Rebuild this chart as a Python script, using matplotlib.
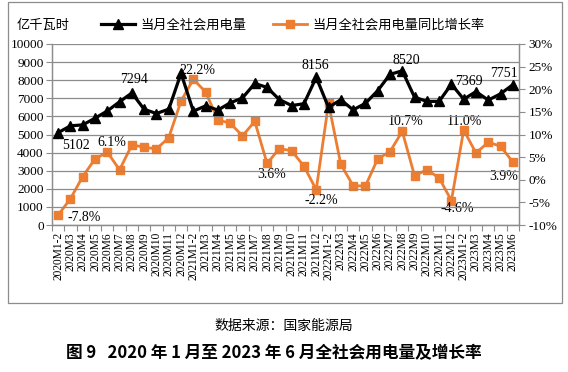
import matplotlib
matplotlib.use("Agg")
import matplotlib.pyplot as plt
from matplotlib.lines import Line2D
from matplotlib.patches import Rectangle
from matplotlib.ticker import FuncFormatter, MultipleLocator

plt.rcParams['font.family'] = ['Liberation Serif', 'Noto Sans CJK SC', 'DejaVu Sans']

months = (["2020M1-2"] + [f"2020M{m}" for m in range(3, 13)] +
          ["2021M1-2"] + [f"2021M{m}" for m in range(3, 13)] +
          ["2022M1-2"] + [f"2022M{m}" for m in range(3, 13)] +
          ["2023M1-2"] + [f"2023M{m}" for m in range(3, 7)])

consumption = [5102, 5480, 5530, 5900, 6300, 6810, 7294, 6390, 6160, 6400, 8380,
               6290, 6580, 6350, 6750, 7020, 7820, 7600, 6930, 6600, 6700, 8156,
               6500, 6920, 6360, 6720, 7420, 8320, 8520, 7060, 6830, 6830, 7780,
               6950, 7369, 6900, 7250, 7751]

growth = [-7.8, -4.2, 0.7, 4.6, 6.1, 2.2, 7.7, 7.2, 6.8, 9.3, 17.4,
          22.2, 19.4, 13.2, 12.5, 9.7, 12.9, 3.6, 6.9, 6.4, 3.0, -2.2,
          16.9, 3.4, -1.3, -1.4, 4.6, 6.2, 10.7, 0.9, 2.2, 0.4, -4.6,
          11.0, 5.9, 8.3, 7.4, 3.9]

cons_labels = {0: "5102", 6: "7294", 21: "8156", 28: "8520", 34: "7369", 37: "7751"}
growth_labels = {0: "-7.8%", 4: "6.1%", 11: "22.2%", 17: "3.6%", 21: "-2.2%",
                 28: "10.7%", 32: "-4.6%", 33: "11.0%", 37: "3.9%"}

W, H = 568, 372
fig = plt.figure(figsize=(W / 100, H / 100), dpi=100)

# chart frame
fig.patches.append(Rectangle((8 / W, 1 - 303 / H), (562 - 8) / W, (303 - 2) / H,
                             transform=fig.transFigure, fill=False,
                             edgecolor='#8c8c8c', linewidth=0.9))

ax = fig.add_axes([52 / W, 1 - 225 / H, (519 - 52) / W, (225 - 44) / H])
ax2 = ax.twinx()

grid_c = '#8c8c8c'
x = list(range(len(months)))

ax.set_ylim(0, 10000)
ax.yaxis.set_major_locator(MultipleLocator(1000))
ax.set_xlim(-0.5, len(months) - 0.5)
ax.grid(axis='y', color=grid_c, linewidth=0.9)
ax.set_axisbelow(True)
ax.set_xticks(x)
ax.set_xticklabels(months, rotation=90, fontsize=8.3)
ax.set_xticks([i - 0.5 for i in range(len(months) + 1)], minor=True)
ax.tick_params(axis='x', which='major', length=0, pad=5)
ax.tick_params(axis='x', which='minor', length=4, color=grid_c, width=0.8)
ax.tick_params(axis='y', length=4, color=grid_c, labelsize=9.5, pad=2)

ax2.set_ylim(-10, 30)
ax2.yaxis.set_major_locator(MultipleLocator(5))
ax2.yaxis.set_major_formatter(FuncFormatter(lambda v, p: f"{int(round(v))}%"))
ax2.tick_params(axis='y', length=4, color=grid_c, labelsize=9.5, pad=3)

for a in (ax, ax2):
    for s in a.spines.values():
        s.set_color(grid_c)
        s.set_linewidth(0.9)
    a.spines['top'].set_visible(False)

ax.set_zorder(ax2.get_zorder() + 1)
ax.patch.set_visible(False)

ax2.plot(x, growth, color='#ED7D31', linewidth=2.0, marker='s', markersize=5.5,
         zorder=3)
ax.plot(x, consumption, color='black', linewidth=2.3, marker='^', markersize=7,
        zorder=4)

cons_off = {0: (4, -13, 'left'), 6: (2, 13, 'center'), 21: (-1, 12, 'center'),
            28: (4, 10, 'center'), 34: (-7, 10, 'center'), 37: (-9, 11, 'center')}
for i, t in cons_labels.items():
    dx, dy, ha = cons_off[i]
    ax.annotate(t, (x[i], consumption[i]), textcoords='offset pixels',
                xytext=(dx, dy), ha=ha, va='center', fontsize=10, zorder=6)

grow_off = {0: (9, -2, 'left'), 4: (5, 10, 'center'), 11: (4, 9, 'center'),
            17: (5, -11, 'center'), 21: (5, -11, 'center'), 28: (3, 10, 'center'),
            32: (6, -8, 'center'), 33: (1, 8, 'center'), 37: (-9, -14, 'center')}
for i, t in growth_labels.items():
    dx, dy, ha = grow_off[i]
    ax2.annotate(t, (x[i], growth[i]), textcoords='offset pixels',
                 xytext=(dx, dy), ha=ha, va='center', fontsize=10, zorder=6)

# unit label
fig.text(17 / W, 1 - 25 / H, "亿千瓦时", fontsize=9.5, family=['Noto Sans CJK SC'],
         ha='left', va='center')

handles = [Line2D([], [], color='black', linewidth=2.3, marker='^', markersize=7),
           Line2D([], [], color='#ED7D31', linewidth=2.0, marker='s', markersize=5.5)]
fig.legend(handles, ["当月全社会用电量", "当月全社会用电量同比增长率"],
           loc='center', bbox_to_anchor=(293 / W, 1 - 25 / H), ncol=2,
           frameon=False, prop={'family': 'Noto Sans CJK SC', 'size': 9.5},
           handlelength=2.6, columnspacing=2.0, handletextpad=0.4)

fig.text(284 / W, 1 - 326 / H, "数据来源：国家能源局", fontsize=10,
         family=['Noto Sans CJK SC'], ha='center', va='center')
fig.text(274 / W, 1 - 353 / H,
         "图 9   2020 年 1 月至 2023 年 6 月全社会用电量及增长率",
         fontsize=12, fontweight='bold',
         family=['Noto Sans CJK SC'], ha='center', va='center')

fig.savefig("out.png", dpi=100)
